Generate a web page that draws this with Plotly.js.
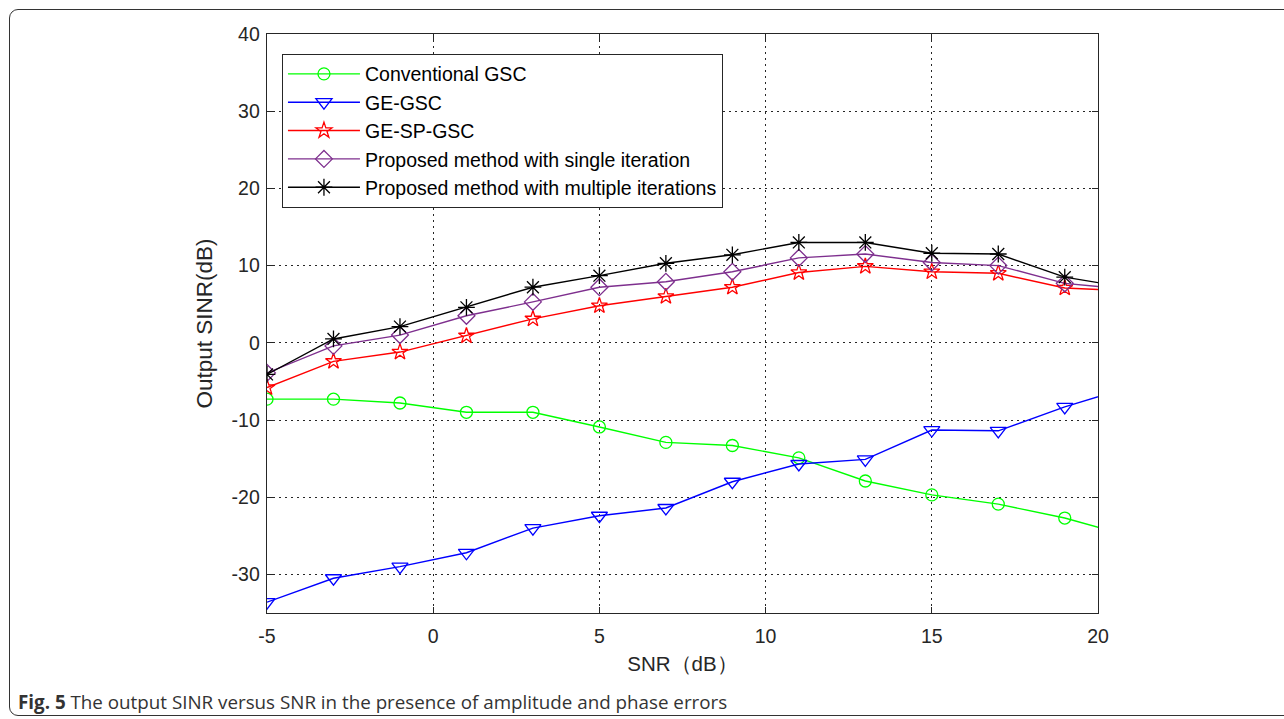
<!DOCTYPE html>
<html>
<head>
<meta charset="utf-8">
<script src="https://cdn.plot.ly/plotly-3.0.1.min.js"></script>
<style>
  html, body { margin: 0; padding: 0; background: #fff; overflow: hidden; }
  #frame { position: absolute; left: 9px; top: 9px; width: 1300px; height: 707px;
           border: 1.5px solid #333; border-radius: 9px; box-sizing: border-box; }
  #chart { position: absolute; left: 0; top: 0; width: 1284px; height: 719px; }
</style>
</head>
<body>
<div id="frame"></div>
<div id="chart"></div>
<script>
// SNR values (dB); the last point lies just beyond the visible axis range
const snr = [-5, -3, -1, 1, 3, 5, 7, 9, 11, 13, 15, 17, 19, 21];

const conventionalGSC = [-7.3, -7.3, -7.8, -9.0, -9.0, -10.9, -12.9, -13.3, -14.9, -17.9, -19.7, -20.9, -22.7, -25.1];
const geGSC          = [-33.6, -30.5, -29.0, -27.2, -24.0, -22.4, -21.4, -18.0, -15.7, -15.1, -11.3, -11.4, -8.3, -5.7];
const geSPGSC        = [-5.8, -2.4, -1.2, 0.9, 3.1, 4.8, 6.0, 7.2, 9.1, 9.9, 9.2, 9.0, 7.1, 6.7];
const proposedSingle = [-3.9, -0.4, 1.0, 3.5, 5.3, 7.2, 7.9, 9.2, 11.0, 11.5, 10.4, 10.0, 7.7, 6.9];
const proposedMulti  = [-4.1, 0.5, 2.1, 4.6, 7.2, 8.7, 10.3, 11.4, 13.0, 13.0, 11.6, 11.5, 8.5, 7.1];

const seriesNames = ["Conventional GSC", "GE-GSC", "GE-SP-GSC",
  "Proposed method with single iteration", "Proposed method with multiple iterations"];

const xTickVals = [-5, 0, 5, 10, 15, 20];
const xTickText = ["-5", "0", "5", "10", "15", "20"];
const yTickVals = [-30, -20, -10, 0, 10, 20, 30, 40];
const yTickText = ["-30", "-20", "-10", "0", "10", "20", "30", "40"];

const xTitle = "SNR（dB）";
const yTitle = "Output SINR(dB)";
const captionBold = "Fig. 5";
const captionText = " The output SINR versus SNR in the presence of amplitude and phase errors";

const styles = [
  {color: "#00ff00", symbol: "circle-open", size: 12},
  {color: "#0000ff", symbol: "triangle-down-open", size: 14},
  {color: "#ff0000", symbol: "star-open", size: 12},
  {color: "#7e2f8e", symbol: "diamond-open", size: 13},
  {color: "#000000", symbol: "asterisk-open", size: 14}
];
const ys = [conventionalGSC, geGSC, geSPGSC, proposedSingle, proposedMulti];

const traces = ys.map((y, i) => ({
  x: snr, y: y, name: seriesNames[i], type: "scatter", mode: "lines+markers",
  line: {color: styles[i].color, width: 1.4},
  marker: {symbol: styles[i].symbol, size: styles[i].size, color: styles[i].color,
           line: {color: styles[i].color, width: 1.3}},
  cliponaxis: true
}));

const font = "Liberation Sans, Arial, sans-serif";
const axisCommon = {
  showline: true, linecolor: "#262626", linewidth: 1.3, mirror: "ticks",
  ticks: "inside", ticklen: 6, tickcolor: "#262626", tickwidth: 1,
  showgrid: true, gridcolor: "#262626", gridwidth: 1, griddash: "1.5px,4.5px",
  zeroline: false, tickfont: {family: font, size: 19.5, color: "#262626"}
};

const layout = {
  width: 1284, height: 719,
  paper_bgcolor: "rgba(0,0,0,0)", plot_bgcolor: "#ffffff",
  margin: {l: 267, r: 186, t: 34, b: 106},
  showlegend: true,
  xaxis: Object.assign({}, axisCommon, {
    range: [-5, 20], tickmode: "array", tickvals: xTickVals, ticktext: xTickText,
    ticklabelstandoff: 5,
    title: {text: xTitle, font: {family: font, size: 20.5, color: "#262626"}, standoff: 11}
  }),
  yaxis: Object.assign({}, axisCommon, {
    range: [-35, 40], tickmode: "array", tickvals: yTickVals, ticktext: yTickText,
    ticklabelstandoff: 2,
    title: {text: yTitle, font: {family: font, size: 22.5, color: "#262626"}, standoff: 12}
  }),
  legend: {
    x: 0.018, y: 0.966, xanchor: "left", yanchor: "top",
    bgcolor: "#ffffff", bordercolor: "#262626", borderwidth: 1,
    font: {family: font, size: 19.5, color: "#000"},
    itemwidth: 72, tracegroupgap: 0
  },
  annotations: [{
    xref: "paper", yref: "paper", x: -0.302, y: -0.127, xanchor: "left", yanchor: "top",
    showarrow: false, align: "left",
    text: "<b>" + captionBold + "</b>" + captionText,
    font: {family: "Open Sans, Noto Sans, sans-serif", size: 18.8, color: "#333"}
  }]
};

Plotly.newPlot("chart", traces, layout, {displayModeBar: false, staticPlot: true});
</script>
</body>
</html>
